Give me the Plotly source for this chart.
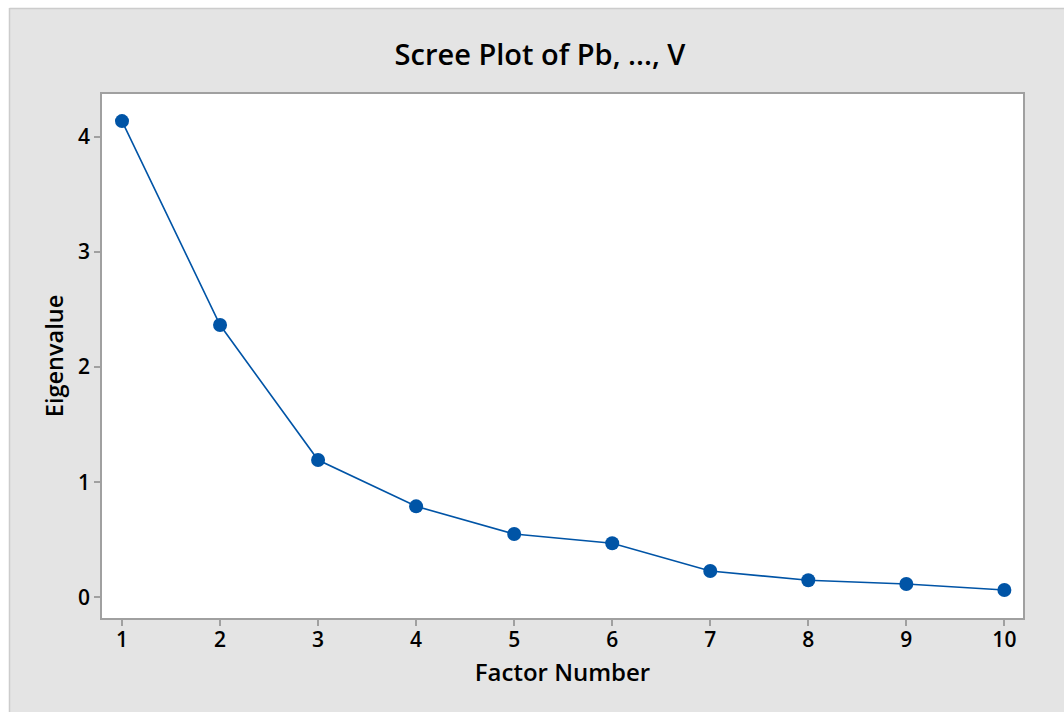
import plotly.graph_objects as go

factor_number = [1, 2, 3, 4, 5, 6, 7, 8, 9, 10]
eigenvalue = [4.134, 2.364, 1.193, 0.791, 0.551, 0.470, 0.230, 0.149, 0.117, 0.065]
x_ticks = [1, 2, 3, 4, 5, 6, 7, 8, 9, 10]
y_ticks = [0, 1, 2, 3, 4]

W, H = 1064, 712
L, R, T, B = 102, 41, 94, 94
PW, PH = W - L - R, H - T - B

BLUE = "#0054A6"
GRAY_BG = "#e4e4e4"
AX = "#a0a0a0"
FONT = "Open Sans"

def px2x(px):
    return (px - L) / PW

def py2y(py):
    return (H - B - py) / PH

fig = go.Figure()
fig.add_trace(go.Scatter(
    x=factor_number, y=eigenvalue, mode="lines+markers",
    line=dict(color=BLUE, width=1.6),
    marker=dict(color=BLUE, size=14),
    showlegend=False, hoverinfo="x+y",
))

shapes = [
    dict(type="rect", xref="paper", yref="paper", x0=px2x(0), x1=px2x(9.5), y0=py2y(H), y1=py2y(0),
         fillcolor="white", line=dict(width=0), layer="below"),
    dict(type="rect", xref="paper", yref="paper", x0=px2x(0), x1=px2x(W), y0=py2y(8), y1=py2y(0),
         fillcolor="white", line=dict(width=0), layer="below"),
    dict(type="line", xref="paper", yref="paper", x0=px2x(9.5), x1=px2x(9.5), y0=py2y(H), y1=py2y(8),
         line=dict(color="#cccccc", width=1.5), layer="below"),
    dict(type="line", xref="paper", yref="paper", x0=px2x(9.5), x1=px2x(W), y0=py2y(8.5), y1=py2y(8.5),
         line=dict(color="#cccccc", width=1.5), layer="below"),
]

fig.update_layout(
    width=W, height=H,
    margin=dict(l=L, r=R, t=T, b=B, pad=0),
    paper_bgcolor=GRAY_BG, plot_bgcolor="white",
    font=dict(family=FONT, color="black"),
    title=dict(text="Scree Plot of Pb, ..., V", x=540 / W, xref="container", xanchor="center",
               y=1 - 55 / H, yref="container", yanchor="middle",
               font=dict(family=FONT, size=29, color="black", weight=600)),
    shapes=shapes,
    xaxis=dict(
        range=[0.796, 10.19], tickvals=x_ticks, ticktext=[str(v) for v in x_ticks],
        showgrid=False, zeroline=False, showline=True, linecolor=AX, linewidth=1.5, mirror=True,
        ticks="outside", ticklen=6, tickcolor=AX, tickwidth=1.5, ticklabelstandoff=-4,
        tickfont=dict(family=FONT, size=21, color="black", weight=600),
        title=dict(text="Factor Number", standoff=12, font=dict(family=FONT, size=24, color="black", weight=600)),
    ),
    yaxis=dict(
        range=[-0.178, 4.369], tickvals=y_ticks, ticktext=[str(v) for v in y_ticks],
        showgrid=False, zeroline=False, showline=True, linecolor=AX, linewidth=1.5, mirror=True,
        ticks="outside", ticklen=6, tickcolor=AX, tickwidth=1.5,
        tickfont=dict(family=FONT, size=21, color="black", weight=600),
        title=dict(text="Eigenvalue", standoff=8, font=dict(family=FONT, size=23.5, color="black", weight=600)),
    ),
)

fig.write_html("out.html")
